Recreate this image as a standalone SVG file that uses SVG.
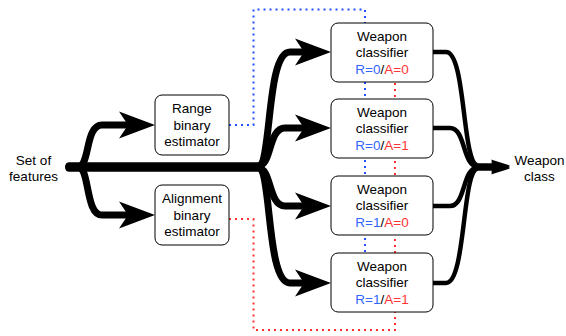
<svg xmlns="http://www.w3.org/2000/svg" width="566" height="336" viewBox="0 0 566 336">
<style>
text{font-family:"Liberation Sans",Arial,sans-serif;font-size:13.5px;fill:#000;text-anchor:middle}
.box{fill:#fff;stroke:#000;stroke-width:1}
.thick{fill:none;stroke:#000;stroke-width:7;stroke-linecap:round;stroke-linejoin:round}
.out{fill:none;stroke:#000;stroke-width:4.5;stroke-linecap:round;stroke-linejoin:round}
.dotb{fill:none;stroke:#2050ff;stroke-width:2;stroke-dasharray:2 4}
.dotr{fill:none;stroke:#ff3030;stroke-width:2;stroke-dasharray:2 4}
.rb{fill:#3366ff}
.ra{fill:#ff3333}
</style>
<defs>
<marker id="big" markerUnits="userSpaceOnUse" markerWidth="36" markerHeight="27" refX="9" refY="13.5" orient="auto" overflow="visible">
<path d="M0,0 L36,13.5 L0,27 L9,13.5 Z" fill="#000"/>
</marker>
<marker id="small" markerUnits="userSpaceOnUse" markerWidth="19" markerHeight="12" refX="5" refY="6" orient="auto" overflow="visible">
<path d="M0,0 L19,6 L0,12 L5,6 Z" fill="#000"/>
</marker>
</defs>
<g id="connectors">
<path class="dotb" d="M229 125 H253.5 V9.5 H365 V253"/>
<path class="dotr" d="M229 219 H253.5 V330 H395 V82"/>
<path class="thick" marker-end="url(#big)" d="M69 167 H78 C90 167,85 125,102 125 H128"/>
<path class="thick" marker-end="url(#big)" d="M69 167 H78 C90 167,85 215,102 215 H128"/>
<path class="thick" marker-end="url(#big)" d="M69 166 H258 C272 166,266 52,290 52 H304"/>
<path class="thick" marker-end="url(#big)" d="M69 166 H258 C272 166,268 128,285 128 H304"/>
<path class="thick" marker-end="url(#big)" d="M69 168 H258 C272 168,268 206,285 206 H304"/>
<path class="thick" marker-end="url(#big)" d="M69 168 H258 C272 168,266 283,290 283 H304"/>
<path class="out" marker-end="url(#small)" d="M433 52 H446 C466 52,462 165.5,478 165.5 H496"/>
<path class="out" marker-end="url(#small)" d="M433 128 H450 C466 128,462 166.5,478 166.5 H496"/>
<path class="out" marker-end="url(#small)" d="M433 206 H450 C466 206,462 167.5,478 167.5 H496"/>
<path class="out" marker-end="url(#small)" d="M433 283 H446 C466 283,462 168.5,478 168.5 H496"/>
</g>
<g id="set-of-features">
<text x="33.5" y="164.5">Set of</text>
<text x="33.5" y="181">features</text>
</g>
<g id="range-estimator">
<rect class="box" x="155" y="95" width="74" height="60" rx="7"/>
<text x="192" y="113">Range</text>
<text x="192" y="129.5">binary</text>
<text x="192" y="146">estimator</text>
</g>
<g id="alignment-estimator">
<rect class="box" x="155" y="185" width="74" height="60" rx="7"/>
<text x="192" y="203">Alignment</text>
<text x="192" y="219.5">binary</text>
<text x="192" y="236">estimator</text>
</g>
<g id="classifier-r0-a0">
<rect class="box" x="331" y="23" width="102" height="59" rx="7"/>
<text x="382" y="41">Weapon</text>
<text x="382" y="57.4">classifier</text>
<text x="382" y="73.8"><tspan class="rb">R=0</tspan>/<tspan class="ra">A=0</tspan></text>
</g>
<g id="classifier-r0-a1">
<rect class="box" x="331" y="99" width="102" height="59" rx="7"/>
<text x="382" y="117">Weapon</text>
<text x="382" y="133.4">classifier</text>
<text x="382" y="149.8"><tspan class="rb">R=0</tspan>/<tspan class="ra">A=1</tspan></text>
</g>
<g id="classifier-r1-a0">
<rect class="box" x="331" y="176" width="102" height="59" rx="7"/>
<text x="382" y="194">Weapon</text>
<text x="382" y="210.4">classifier</text>
<text x="382" y="226.8"><tspan class="rb">R=1</tspan>/<tspan class="ra">A=0</tspan></text>
</g>
<g id="classifier-r1-a1">
<rect class="box" x="331" y="253" width="102" height="59" rx="7"/>
<text x="382" y="271">Weapon</text>
<text x="382" y="287.4">classifier</text>
<text x="382" y="303.8"><tspan class="rb">R=1</tspan>/<tspan class="ra">A=1</tspan></text>
</g>
<g id="weapon-class">
<text x="539.5" y="164.5">Weapon</text>
<text x="539.5" y="181">class</text>
</g>
</svg>
